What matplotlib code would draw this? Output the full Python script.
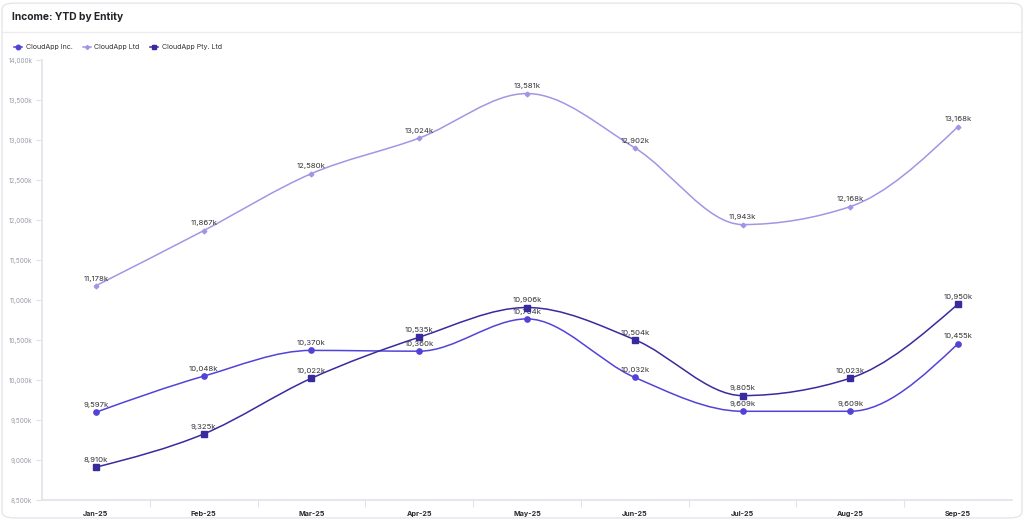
import numpy as np
import matplotlib
matplotlib.use("Agg")
import matplotlib.pyplot as plt
from matplotlib.path import Path
from matplotlib.patches import PathPatch, FancyBboxPatch
from matplotlib.lines import Line2D
from matplotlib.ticker import FuncFormatter, FixedLocator

plt.rcParams['font.family'] = ['Inter', 'DejaVu Sans']

months = ["Jan-25", "Feb-25", "Mar-25", "Apr-25", "May-25", "Jun-25", "Jul-25", "Aug-25", "Sep-25"]
inc = [9597, 10048, 10370, 10360, 10764, 10032, 9609, 9609, 10455]
ltd = [11178, 11867, 12580, 13024, 13581, 12902, 11943, 12168, 13168]
pty = [8910, 9325, 10022, 10535, 10906, 10504, 9805, 10023, 10950]

series = [
    ("CloudApp Inc.", inc, "#5243d8", "o", 3.8),
    ("CloudApp Ltd", ltd, "#a395e6", "D", 2.4),
    ("CloudApp Pty. Ltd", pty, "#382b9e", "s", 3.8),
]


def monotone_path(x, y):
    # same idea as d3 curveMonotoneX: cubic bezier segments
    x = np.asarray(x, float)
    y = np.asarray(y, float)
    n = len(x)
    t = np.zeros(n)
    for i in range(1, n - 1):
        h0, h1 = x[i] - x[i - 1], x[i + 1] - x[i]
        s0, s1 = (y[i] - y[i - 1]) / h0, (y[i + 1] - y[i]) / h1
        p = (s0 * h1 + s1 * h0) / (h0 + h1)
        t[i] = (np.sign(s0) + np.sign(s1)) * min(abs(s0), abs(s1), 0.5 * abs(p))
    h = x[1] - x[0]
    t[0] = (3 * (y[1] - y[0]) / h - t[1]) / 2
    h = x[-1] - x[-2]
    t[-1] = (3 * (y[-1] - y[-2]) / h - t[-2]) / 2
    verts = [(x[0], y[0])]
    codes = [Path.MOVETO]
    for i in range(n - 1):
        dx = (x[i + 1] - x[i]) / 3
        verts += [(x[i] + dx, y[i] + dx * t[i]),
                  (x[i + 1] - dx, y[i + 1] - dx * t[i + 1]),
                  (x[i + 1], y[i + 1])]
        codes += [Path.CURVE4] * 3
    return Path(verts, codes)


fig = plt.figure(figsize=(10.24, 5.2), dpi=100)
fig.patch.set_facecolor("white")
card = FancyBboxPatch((0.002, 0.004), 0.996, 0.99, boxstyle="round,pad=0,rounding_size=0.012",
                      transform=fig.transFigure, facecolor="white", edgecolor="#e6e6ea", lw=1,
                      zorder=-10)
fig.patches.append(card)
fig.add_artist(Line2D([0.002, 0.998], [1 - 32 / 520, 1 - 32 / 520], color="#ececf0", lw=1,
                      transform=fig.transFigure, zorder=-5))
fig.text(12 / 1024, 1 - 17 / 520, "Income: YTD by Entity", fontsize=7.4, fontweight="bold",
         color="#222228", va="center", ha="left")

ax = fig.add_axes([42 / 1024, 20 / 520, 970 / 1024, 440 / 520])
ax.patch.set_alpha(0)
xs = np.arange(len(months))
handles = []
for name, vals, col, mk, ms in series:
    ax.add_patch(PathPatch(monotone_path(xs, vals), facecolor="none", edgecolor=col, lw=1.1))
    ax.plot(xs, vals, ls="none", marker=mk, ms=ms, color=col, zorder=3)
    handles.append(Line2D([0], [0], color=col, marker=mk, ms=ms * 0.85, lw=1.1))
    for x, v in zip(xs, vals):
        ax.annotate(f"{v:,}k", (x, v), xytext=(0, 3), textcoords="offset points",
                    ha="center", va="bottom", fontsize=5.6, color="#333338")

ax.set_xlim(-0.5, len(months) - 0.5)
ax.set_ylim(8500, 14000)
ax.set_yticks(np.arange(8500, 14001, 500))
ax.yaxis.set_major_formatter(FuncFormatter(lambda v, p: f"{int(v):,}k"))
ax.xaxis.set_major_locator(FixedLocator(np.arange(0.5, len(months) - 1, 1.0)))
ax.xaxis.set_major_formatter(FuncFormatter(lambda v, p: ""))
ax.xaxis.set_minor_locator(FixedLocator(xs))
ax.set_xticklabels(months, minor=True)
ax.tick_params(axis="x", which="minor", length=0, labelsize=5.2, labelcolor="#2a2a30", pad=8)
ax.tick_params(axis="x", which="major", length=5, color="#e2e2ea", direction="out")
for lab in ax.get_xticklabels(minor=True):
    lab.set_fontweight("bold")
ax.tick_params(axis="y", length=4, color="#e2e2ea", labelsize=4.6, labelcolor="#9a9aaa", pad=3)
for s in ["top", "right"]:
    ax.spines[s].set_visible(False)
ax.spines["left"].set_color("#e2e2ea")
ax.spines["bottom"].set_color("#e2e2ea")
ax.spines["left"].set_linewidth(1.2)
ax.spines["bottom"].set_linewidth(1.2)

fig.legend(handles, [s[0] for s in series], loc="center left", bbox_to_anchor=(8 / 1024, 1 - 47 / 520),
           ncol=3, frameon=False, fontsize=5.1, handlelength=1.1, handletextpad=0.5,
           columnspacing=1.5, labelcolor="#333338")

fig.savefig("out.png", dpi=100)
